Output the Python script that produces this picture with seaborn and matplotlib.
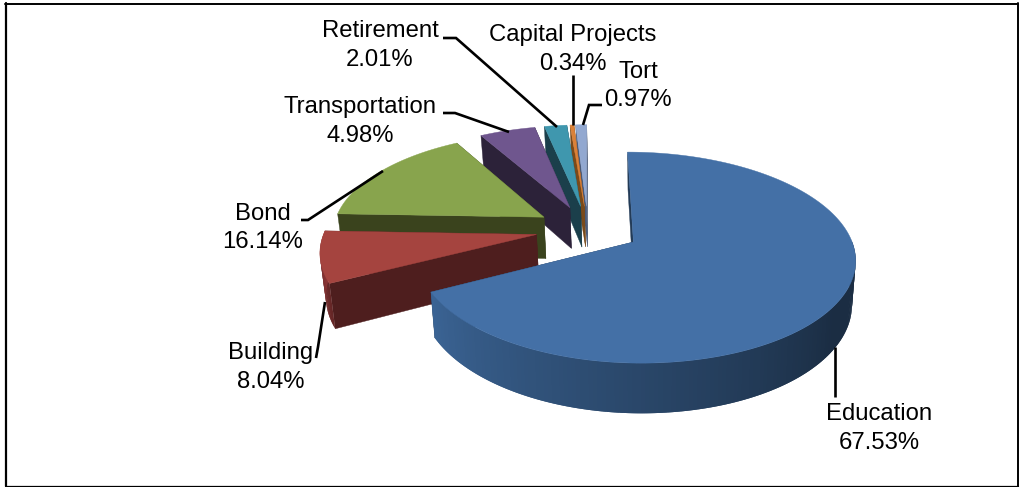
import numpy as np
import seaborn as sns
import matplotlib
matplotlib.use('Agg')
import matplotlib.pyplot as plt

names = ['Education', 'Building', 'Bond', 'Transportation', 'Retirement', 'Capital Projects', 'Tort']
shares = [67.53, 8.04, 16.14, 4.98, 2.01, 0.34, 0.97]

top_hex = ['#4470A6', '#A5443F', '#88A44D', '#6F568E', '#3F97AE', '#DB8138', '#92A8D0']
wall_hex = ['#2E4E74', '#4E1E1E', '#3A431D', '#2C2239', '#1B3F4B', '#7A4A1A', '#4A5A78']

label_xy = [(879, 428.5), (271, 367.5), (263, 228), (360, 121.5), (380, 45.5), (573, 49.5), (638, 86)]
leaders = [
    [(835, 347), (835, 397)],
    [(325, 302), (318, 347), (316, 358)],
    [(383, 171), (308, 220), (301, 220)],
    [(509, 132), (455, 113), (443, 113)],
    [(557, 127), (456, 38), (443, 38)],
    [(573, 125), (573, 75)],
    [(583, 125), (589, 105), (602, 105)],
]

# pie geometry in pixels
cx, cy = 588, 229.3
rx, ry = 218, 99.5
persp = 0.145
explode = 0.24
depth = 42
shrink, shrink_x = 0.982, 650
left_r, right_r = 0.97, 0.985

sns.set_theme(style='white')
plt.rcParams['font.family'] = ['Liberation Sans', 'DejaVu Sans']
top_cols = sns.color_palette(top_hex)
wall_cols = sns.color_palette(wall_hex)


def project(px, py, lower=False):
    s = 1 / (1 - persp * py)
    x = cx + rx * px * s
    y = cy + ry * py * s
    if lower:
        x = shrink_x + (x - shrink_x) * shrink
        y = y + depth * s
    return x, y


def shade(col, f):
    return tuple(min(1, c * f) for c in col)


def rim(ox, oy, a):
    s = np.sin(a)
    return ox + np.where(s < 0, left_r, right_r) * s, oy - np.cos(a)


fig, ax = plt.subplots(figsize=(10.21, 4.87), dpi=100)
fig.subplots_adjust(0, 0, 1, 1)
ax.set_xlim(0, 1021)
ax.set_ylim(487, 0)
ax.axis('off')

edges = np.cumsum([0] + shares) / sum(shares) * 2 * np.pi

# back slices first, the big front slice last
for i in [6, 5, 4, 3, 2, 1, 0]:
    a0, a1 = edges[i], edges[i + 1]
    mid = (a0 + a1) / 2
    ox, oy = explode * np.sin(mid), -explode * np.cos(mid)
    t = np.linspace(a0, a1, max(int(np.degrees(a1 - a0)), 6) + 1)
    ex, ey = rim(ox, oy, t)

    # radial cut faces, the one further back goes first
    for a in sorted([a0, a1], key=lambda a: -np.cos(a)):
        px, py = rim(ox, oy, a)
        p = [project(ox, oy), project(px, py), project(px, py, True), project(ox, oy, True)]
        ax.fill(*zip(*p), color=wall_cols[i] if i else shade(wall_cols[i], 0.75), lw=0.3)

    # outer wall in small steps for the gradient, only where it faces the viewer
    for j in range(len(t) - 1):
        deg = np.degrees((t[j] + t[j + 1]) / 2)
        if np.cos(t[j]) > 0.03:
            continue
        f = np.interp(deg, [125, 243, 272], [0.58, 1.28, 1.9])
        k = min(j + 2, len(t) - 1)
        p = [project(ex[j], ey[j]), project(ex[k], ey[k]),
             project(ex[k], ey[k], True), project(ex[j], ey[j], True)]
        ax.fill(*zip(*p), color=shade(wall_cols[i], f), lw=0)

    # top face
    xs, ys = project(np.r_[ox, ex], np.r_[oy, ey])
    ax.fill(xs, ys, color=top_cols[i], lw=0.3)

for name, val, xy, line in zip(names, shares, label_xy, leaders):
    ax.plot(*zip(*line), color='black', lw=1.9, solid_joinstyle='miter', solid_capstyle='butt')
    ax.text(xy[0], xy[1] - 14.5, name, ha='center', va='center', fontsize=17.2, color='black')
    ax.text(xy[0], xy[1] + 14.5, f'{val:.2f}%', ha='center', va='center', fontsize=17.2, color='black')

# outer frame
ax.plot([6, 6], [3, 486], color='black', lw=1.6)
ax.plot([5, 1018], [3.5, 3.5], color='black', lw=1.4)
ax.plot([1018, 1018], [3, 486], color='black', lw=1.4)
ax.plot([5, 1018], [486, 486], color='black', lw=0.9)

fig.savefig('out.png', dpi=100)
